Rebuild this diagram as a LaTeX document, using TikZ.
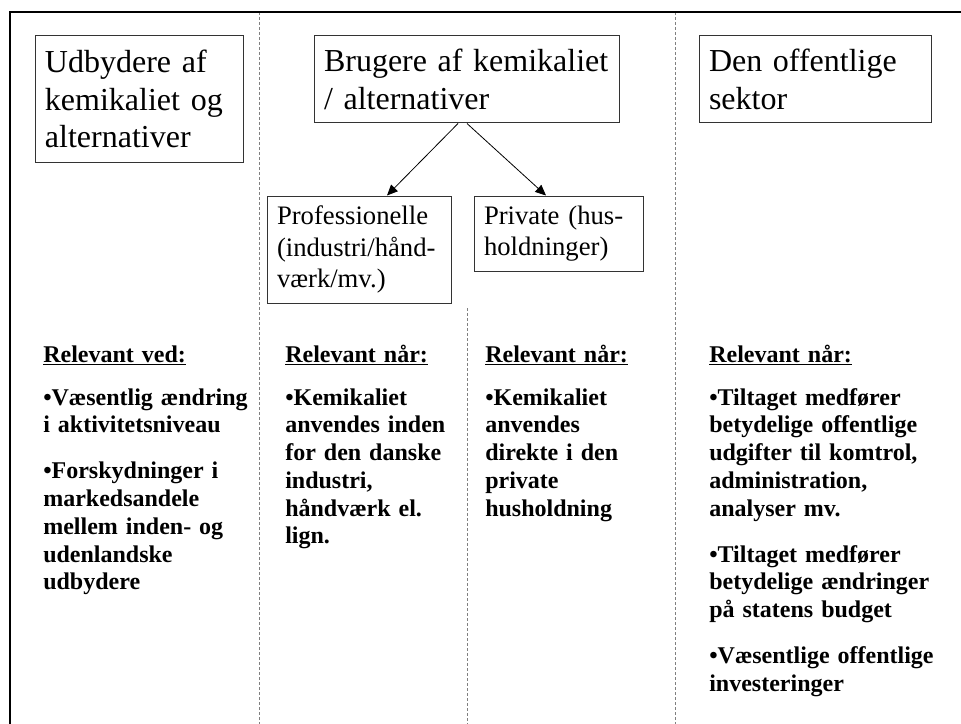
\documentclass[tikz,border=0pt]{standalone}
\usepackage{fontspec}
\setmainfont{Liberation Serif}
\usetikzlibrary{arrows.meta,calc}
\begin{document}
\begin{tikzpicture}[x=0.75pt,y=-0.75pt,
  bigbox/.style={draw=black!80, line width=0.75pt, inner xsep=7.5pt, inner ysep=0pt, align=left, font=\fontsize{24pt}{28pt}\selectfont},
  smallbox/.style={draw=black!80, line width=0.75pt, inner xsep=7.5pt, inner ysep=0pt, align=left, font=\fontsize{20pt}{23.6pt}\selectfont},
  coltext/.style={anchor=base west, inner sep=0pt, align=left, text width=#1, font=\fontsize{18pt}{20.8pt}\selectfont\bfseries},
  divider/.style={draw=black!50, line width=0.75pt, dash pattern=on 2.25pt off 1.5pt},
  frameline/.style={draw=black, line width=1.6pt},
  arr/.style={draw=black, line width=0.6pt, -{Triangle[length=8pt,width=7pt]}}
]
\useasboundingbox (0,0) rectangle (961,724);

% dividers
\coordinate (d1t) at (259,12); \coordinate (d1b) at (259,724);
\coordinate (d2t) at (675,12); \coordinate (d2b) at (675,724);
\coordinate (d3t) at (467,308); \coordinate (d3b) at (467,724);
\draw[divider] (d1t) -- (d1b);
\draw[divider] (d2t) -- (d2b);
\draw[divider] (d3t) -- (d3b);

% frame
\coordinate (fr) at (961,12); \coordinate (ftl) at (10,12); \coordinate (fbl) at (10,724);
\draw[frameline] (fr) -- (ftl) -- (fbl);

% boxes
\node[bigbox, text width=141pt, minimum height=94.5pt] (b1) at (139,99)
  {Udbydere af\\ kemikaliet og\\ alternativer};
\node[bigbox, text width=213.75pt, minimum height=65.25pt] (b2) at (466.5,79.5)
  {\mbox{Brugere af kemikaliet}\\ / alternativer};
\node[bigbox, text width=159pt, minimum height=65.25pt] (b3) at (815,79.5)
  {Den offentlige\\ sektor};
\node[smallbox, text width=123pt, minimum height=80.25pt] (prof) at (359,249.5)
  {Professionelle\\ (industri/hånd-\\ værk/mv.)};
\node[smallbox, text width=111.75pt, minimum height=56.25pt] (priv) at (558.5,233.5)
  {Private (hus-\\ holdninger)};

% arrows
\draw[arr] ($(b2.south)+(-8.5,0)$) -- ($(prof.north)+(28,0)$);
\draw[arr] ($(b2.south)+(0.5,0)$) -- ($(priv.north)+(-12.5,0)$);

% column texts
\node[coltext=170pt] (c1) at (43,362)
  {\underline{Relevant ved:}\\[11.5pt]
   •Væsentlig ændring\\ i aktivitetsniveau\\[13.8pt]
   •Forskydninger i\\ markedsandele\\ mellem inden- og\\ udenlandske\\ udbydere};
\node[coltext=150pt] (c2) at (285,362)
  {\underline{Relevant når:}\\[11.5pt]
   •Kemikaliet\\ anvendes inden\\ for den danske\\ industri,\\ håndværk el.\\ lign.};
\node[coltext=150pt] (c3) at (485,362)
  {\underline{Relevant når:}\\[11.5pt]
   •Kemikaliet\\ anvendes\\ direkte i den\\ private\\ husholdning};
\node[coltext=180pt] (c4) at (709,362)
  {\underline{Relevant når:}\\[11.5pt]
   •Tiltaget medfører\\ betydelige offentlige\\ udgifter til komtrol,\\ administration,\\ analyser mv.\\[13.8pt]
   •Tiltaget medfører\\ betydelige ændringer\\ på statens budget\\[13.8pt]
   •Væsentlige offentlige\\ investeringer};
\end{tikzpicture}
\end{document}
